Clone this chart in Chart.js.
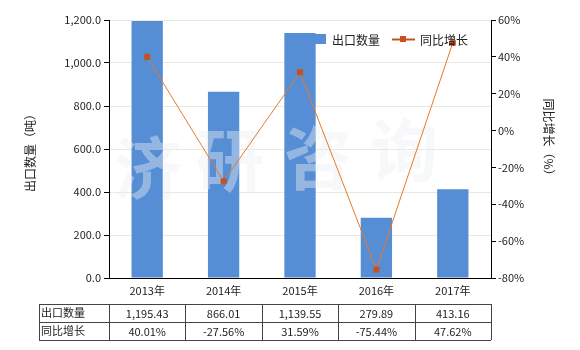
<!DOCTYPE html>
<html lang="zh">
<head>
<meta charset="UTF-8" />
<title>出口数量及同比增长</title>
<script src="https://cdn.jsdelivr.net/npm/chart.js@4.4.0/dist/chart.umd.min.js"></script>
<style>
  html, body { margin: 0; padding: 0; background: #fff; }
  #wrap { width: 580px; height: 350px; position: relative; }
</style>
</head>
<body>
<div id="wrap"><canvas id="c" width="580" height="350"></canvas></div>
<script>
  const years = ['2013年', '2014年', '2015年', '2016年', '2017年'];
  const exportQty = [1195.43, 866.01, 1139.55, 279.89, 413.16];
  const yoyGrowth = [40.01, -27.56, 31.59, -75.44, 47.62];
  const qtyLabels = ['1,195.43', '866.01', '1,139.55', '279.89', '413.16'];
  const growthLabels = ['40.01%', '-27.56%', '31.59%', '-75.44%', '47.62%'];

  const FONT = '"Noto Sans CJK SC", "Noto Sans", sans-serif';
  const BAR = '#558ed5';
  const LINE = '#e8782a';
  const MARK = '#c9501c';

  const extras = {
    id: 'extras',
    afterDatasetDraw(chart, args) {
      if (args.index !== 0) return;
      const ctx = chart.ctx;
      ctx.save();
      ctx.fillStyle = 'rgba(236,238,244,0.42)';
      ctx.font = 'bold 68px ' + FONT;
      ctx.textBaseline = 'middle';
      ctx.textAlign = 'center';
      ctx.fillText('济', 148, 168);
      ctx.fillText('研', 230, 160);
      ctx.fillText('咨', 318, 158);
      ctx.fillText('询', 404, 150);
      ctx.restore();
    },
    afterDraw(chart) {
      const ctx = chart.ctx;
      const x = chart.scales.x;
      ctx.save();
      // axis titles
      ctx.fillStyle = '#222';
      ctx.font = '12px ' + FONT;
      ctx.textAlign = 'center';
      ctx.textBaseline = 'middle';
      ctx.save();
      ctx.translate(30, 150);
      ctx.rotate(-Math.PI / 2);
      ctx.fillText('出口数量（吨）', 0, 0);
      ctx.restore();
      ctx.save();
      ctx.translate(549, 140);
      ctx.rotate(Math.PI / 2);
      ctx.fillText('同比增长（%）', 0, 0);
      ctx.restore();

      // legend
      ctx.font = '12px ' + FONT;
      ctx.textAlign = 'left';
      ctx.fillStyle = BAR;
      ctx.fillRect(306, 34, 20, 10);
      ctx.fillStyle = '#222';
      ctx.fillText('出口数量', 332, 40);
      ctx.strokeStyle = MARK;
      ctx.lineWidth = 2;
      ctx.beginPath(); ctx.moveTo(392, 39.5); ctx.lineTo(415, 39.5); ctx.stroke();
      ctx.fillStyle = MARK;
      ctx.fillRect(400, 36, 6, 6);
      ctx.fillStyle = '#222';
      ctx.fillText('同比增长', 420, 40);

      // data table
      const left = 39, right = chart.chartArea.right, rows = [304, 322, 340];
      const step = (right - chart.chartArea.left) / years.length;
      ctx.strokeStyle = '#444';
      ctx.lineWidth = 1;
      ctx.beginPath();
      rows.forEach(r => { ctx.moveTo(left, r + 0.5); ctx.lineTo(right, r + 0.5); });
      ctx.moveTo(left + 0.5, rows[0]); ctx.lineTo(left + 0.5, rows[2]);
      for (let i = 0; i <= years.length; i++) {
        const cx = Math.round(chart.chartArea.left + i * step) + 0.5;
        ctx.moveTo(cx, rows[0]); ctx.lineTo(cx, rows[2]);
      }
      ctx.stroke();
      ctx.font = '11px ' + FONT;
      ctx.fillStyle = '#222';
      ctx.textAlign = 'left';
      ctx.fillText('出口数量', left + 2, 313);
      ctx.fillText('同比增长', left + 2, 331);
      ctx.textAlign = 'center';
      years.forEach((y, i) => {
        const cx = x.getPixelForValue(i);
        ctx.fillText(qtyLabels[i], cx, 314);
        ctx.fillText(growthLabels[i], cx, 332);
      });
      ctx.restore();
    }
  };

  new Chart(document.getElementById('c'), {
    data: {
      labels: years,
      datasets: [
        {
          type: 'bar',
          label: '出口数量',
          data: exportQty,
          backgroundColor: BAR,
          yAxisID: 'y',
          barPercentage: 0.41,
          categoryPercentage: 1,
          order: 2
        },
        {
          type: 'line',
          label: '同比增长',
          data: yoyGrowth,
          borderColor: LINE,
          borderWidth: 1,
          pointStyle: 'rect',
          pointRadius: 3.5,
          pointBackgroundColor: MARK,
          pointBorderColor: MARK,
          tension: 0,
          yAxisID: 'y1',
          order: 1
        }
      ]
    },
    options: {
      responsive: false,
      animation: false,
      layout: { padding: { top: 20, left: 0, right: 0, bottom: 0 } },
      plugins: { legend: { display: false }, tooltip: { enabled: false } },
      scales: {
        x: {
          afterFit: s => { s.height = 72; },
          grid: { display: false, drawTicks: false },
          border: { color: '#000', width: 1 },
          ticks: { color: '#222', font: { family: FONT, size: 11 }, padding: 6 }
        },
        y: {
          position: 'left',
          min: 0, max: 1200,
          afterFit: s => { s.width = 109; },
          ticks: {
            stepSize: 200,
            color: '#222',
            font: { family: FONT, size: 11 },
            padding: 3,
            callback: v => v.toLocaleString('en-US', { minimumFractionDigits: 1, maximumFractionDigits: 1 })
          },
          grid: { color: '#ebe9da', tickLength: 5, tickColor: '#000' },
          border: { color: '#000', width: 1 }
        },
        y1: {
          position: 'right',
          min: -80, max: 60,
          afterFit: s => { s.width = 89; },
          ticks: {
            stepSize: 20,
            color: '#222',
            font: { family: FONT, size: 11 },
            padding: 2,
            callback: v => v + '%'
          },
          grid: { drawOnChartArea: false, tickLength: 5, color: '#000' },
          border: { color: '#000', width: 1 }
        }
      }
    },
    plugins: [extras]
  });
</script>
</body>
</html>
